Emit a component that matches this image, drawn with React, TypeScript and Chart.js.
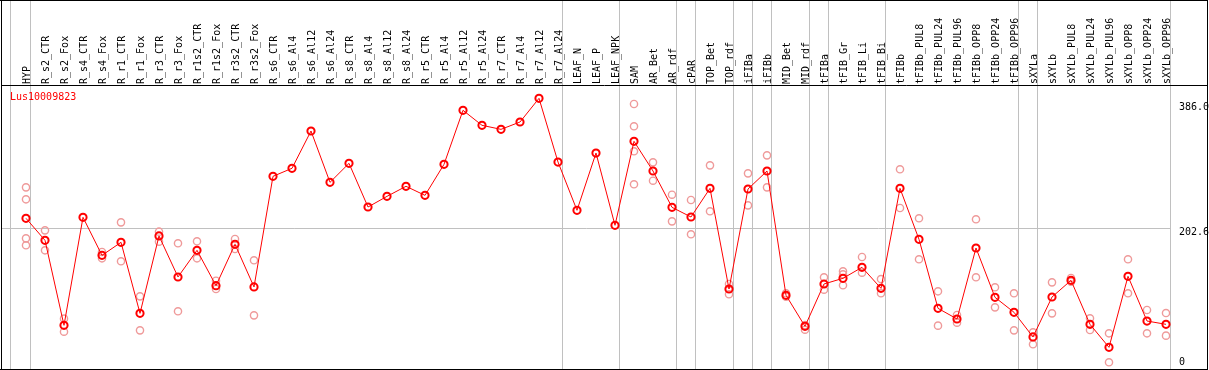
import React, { useEffect, useRef } from "react";
import { Chart, registerables } from "chart.js";

Chart.register(...registerables);

const geneName = "Lus10009823";

const categories: string[] = [
  "HYP", "R_s2_CTR", "R_s2_Fox", "R_s4_CTR", "R_s4_Fox", "R_r1_CTR", "R_r1_Fox",
  "R_r3_CTR", "R_r3_Fox", "R_r1s2_CTR", "R_r1s2_Fox", "R_r3s2_CTR", "R_r3s2_Fox",
  "R_s6_CTR", "R_s6_Al4", "R_s6_Al12", "R_s6_Al24", "R_s8_CTR", "R_s8_Al4", "R_s8_Al12",
  "R_s8_Al24", "R_r5_CTR", "R_r5_Al4", "R_r5_Al12", "R_r5_Al24", "R_r7_CTR", "R_r7_Al4",
  "R_r7_Al12", "R_r7_Al24", "LEAF_N", "LEAF_P", "LEAF_NPK", "SAM", "AR_Bet", "AR_rdf",
  "cPAR", "TOP_Bet", "TOP_rdf", "iFIBa", "iFIBb", "MID_Bet", "MID_rdf", "tFIBa",
  "tFIB_Gr", "tFIB_Li", "tFIB_Bi", "tFIBb", "tFIBb_PUL8", "tFIBb_PUL24", "tFIBb_PUL96",
  "tFIBb_OPP8", "tFIBb_OPP24", "tFIBb_OPP96", "sXYLa", "sXYLb", "sXYLb_PUL8",
  "sXYLb_PUL24", "sXYLb_PUL96", "sXYLb_OPP8", "sXYLb_OPP24", "sXYLb_OPP96",
];

const meanValues: number[] = [
  217.7, 184.4, 55.9, 219.2, 161.7, 181.4, 74.0, 191.0, 129.0, 169.3, 115.9, 178.4, 113.9,
  281.2, 293.3, 349.7, 272.1, 300.8, 234.8, 250.9, 266.1, 252.4, 299.3, 381.0, 358.3,
  352.2, 363.3, 399.1, 302.8, 229.8, 316.4, 207.1, 334.1, 289.2, 234.3, 219.7, 263.0,
  110.8, 262.0, 289.2, 101.3, 54.4, 118.4, 127.0, 143.6, 111.8, 263.0, 185.9, 81.6,
  65.5, 172.8, 98.2, 75.6, 38.3, 98.7, 123.9, 57.4, 22.6, 130.0, 62.4, 57.4,
];

const replicateValues: number[][] = [
  [264.5, 246.4, 187.4, 176.9], [199.5, 169.3], [66.0, 46.3], [], [166.8, 157.2],
  [211.6, 152.7], [99.7, 48.3], [197.5, 182.4], [179.9, 77.1], [182.9, 157.2],
  [123.4, 110.8], [186.4, 171.3], [154.2, 71.0],
  [], [], [], [], [], [], [], [], [], [], [], [], [], [], [], [],
  [], [], [],
  [390.5, 356.8, 319.0, 269.1], [302.3, 274.6], [253.4, 213.1], [245.4, 193.5],
  [297.8, 228.3], [118.4, 102.8], [285.7, 237.3], [312.9, 264.5], [104.3, 99.2],
  [56.4, 49.3], [128.5, 109.8], [137.5, 133.0, 116.4], [159.2, 135.5], [125.9, 104.3],
  [291.8, 233.3], [217.7, 155.7], [107.3, 55.4], [71.5, 59.9], [216.2, 128.5],
  [113.4, 83.1], [104.3, 48.3], [45.3, 27.2], [120.9, 74.0], [127.5, 121.9],
  [66.5, 48.8], [43.8, 0], [155.7, 104.3], [79.1, 43.8], [74.5, 40.3],
];

// last column index of each group of samples (a separator follows each)
const groupEnds: number[] = [0, 28, 31, 34, 35, 37, 38, 39, 41, 42, 45, 52, 53, 60];
const yTickValues: number[] = [386.0, 202.6, 0];
const yLabelMax = 386.0;
const yScaleMax = 420;

const FONT = '10px "DejaVu Sans Mono", "Liberation Mono", monospace';

const decorPlugin = {
  id: "decor",
  beforeDatasetsDraw(chart: any) {
    const ctx = chart.ctx;
    const xs = chart.scales.x;
    const ys = chart.scales.y;
    const H = chart.height;
    ctx.save();
    ctx.lineWidth = 1;
    ctx.strokeStyle = "#c0c0c0";
    const seps: number[] = [Math.round(xs.getPixelForValue(0) - 16) + 0.5];
    groupEnds.forEach((i) => seps.push(Math.round(xs.getPixelForValue(i) + 4) + 0.5));
    seps.forEach((x) => {
      ctx.beginPath();
      ctx.moveTo(x, 0);
      ctx.lineTo(x, H);
      ctx.stroke();
    });
    const lastSep = seps[seps.length - 1];
    yTickValues.forEach((v) => {
      if (v === 0 || v === yLabelMax) return;
      const y = Math.round(ys.getPixelForValue(v)) + 0.5;
      ctx.beginPath();
      ctx.moveTo(2, y);
      ctx.lineTo(lastSep, y);
      ctx.stroke();
    });
    ctx.fillStyle = "#000000";
    ctx.font = FONT;
    ctx.textAlign = "left";
    ctx.textBaseline = "alphabetic";
    categories.forEach((c, i) => {
      const x = xs.getPixelForValue(i);
      ctx.save();
      ctx.translate(x, 84);
      ctx.rotate(-Math.PI / 2);
      ctx.fillText(c, 0, 3.5);
      ctx.restore();
    });
    ctx.fillStyle = "#ff0000";
    ctx.fillText(geneName, 10, 100);
    ctx.fillStyle = "#000000";
    ctx.textBaseline = "middle";
    yTickValues.forEach((v) => {
      let y = ys.getPixelForValue(v);
      if (v !== 0 && v !== yLabelMax) y += 4;
      const txt = v === 0 ? "0" : v.toFixed(1);
      ctx.fillText(txt, lastSep + 8.5, y);
    });
    ctx.restore();
  },
  afterDraw(chart: any) {
    const ctx = chart.ctx;
    const W = chart.width;
    const H = chart.height;
    ctx.save();
    ctx.strokeStyle = "#000000";
    ctx.lineWidth = 1;
    ctx.beginPath();
    ctx.moveTo(1.5, 0);
    ctx.lineTo(1.5, H);
    ctx.moveTo(0, 0.5);
    ctx.lineTo(W - 1, 0.5);
    ctx.moveTo(W - 1.5, 0);
    ctx.lineTo(W - 1.5, H);
    ctx.moveTo(0, H - 0.5);
    ctx.lineTo(W - 1, H - 0.5);
    ctx.moveTo(1, 85.5);
    ctx.lineTo(W - 1, 85.5);
    ctx.stroke();
    ctx.restore();
  },
};

export default function App() {
  const ref = useRef<HTMLCanvasElement>(null);
  useEffect(() => {
    if (!ref.current) return;
    const mainData = meanValues.map((v, i) => ({ x: i, y: v }));
    const repData: { x: number; y: number }[] = [];
    replicateValues.forEach((arr, i) => arr.forEach((v) => repData.push({ x: i, y: v })));
    // keep 386 at y≈107 and 0 at y≈362.3 while the scale reaches 420
    const bottomPx = 362.3;
    const pxPerUnit = (bottomPx - 107) / yLabelMax;
    const topPad = bottomPx - yScaleMax * pxPerUnit;
    const chart = new Chart(ref.current, {
      type: "scatter",
      data: {
        datasets: [
          {
            label: "mean",
            data: mainData,
            showLine: true,
            borderColor: "#ff0000",
            borderWidth: 1,
            pointBorderColor: "#ff0000",
            pointBackgroundColor: "rgba(0,0,0,0)",
            pointBorderWidth: 2,
            pointRadius: 3.6,
            tension: 0,
            clip: false,
          } as any,
          {
            label: "replicates",
            data: repData,
            showLine: false,
            pointBorderColor: "#ef9a9a",
            pointBackgroundColor: "rgba(0,0,0,0)",
            pointBorderWidth: 1.4,
            pointRadius: 3.6,
            clip: false,
          } as any,
        ],
      },
      options: {
        animation: false,
        responsive: false,
        devicePixelRatio: 1,
        layout: { padding: { left: 26, right: 43, top: topPad, bottom: 370 - bottomPx } },
        scales: {
          x: { type: "linear", min: 0, max: categories.length - 1, display: false },
          y: { type: "linear", min: 0, max: yScaleMax, display: false },
        },
        plugins: { legend: { display: false }, tooltip: { enabled: false } },
        events: [],
      },
      plugins: [decorPlugin],
    });
    return () => chart.destroy();
  }, []);
  return (
    <div style={{ position: "absolute", left: 0, top: 0, width: 1209, height: 370, background: "#fff" }}>
      <canvas ref={ref} width={1209} height={370} style={{ display: "block", width: 1209, height: 370 }} />
    </div>
  );
}
